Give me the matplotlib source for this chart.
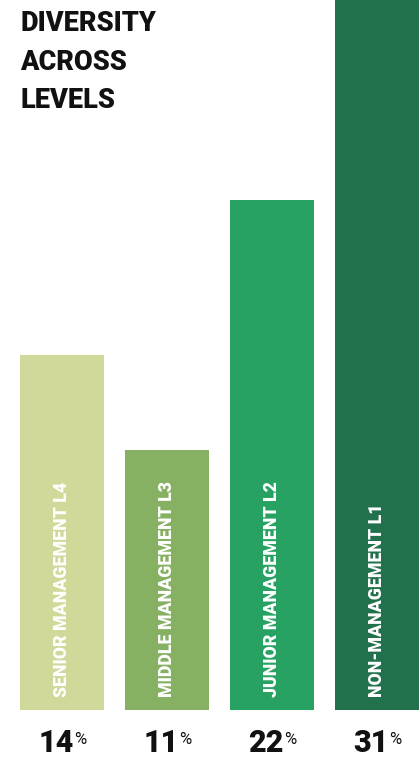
import matplotlib.pyplot as plt
from matplotlib.transforms import blended_transform_factory

# data
levels = ['SENIOR MANAGEMENT L4', 'MIDDLE MANAGEMENT L3',
          'JUNIOR MANAGEMENT L2', 'NON-MANAGEMENT L1']
percent = [14, 11, 22, 31]
# bar heights as drawn in the graphic (relative, tallest = 100)
bar_heights = [50, 36.6, 71.8, 100]
colors = ['#d0d89a', '#86b062', '#27a263', '#21714d']

plt.rcParams['font.family'] = ['Roboto', 'DejaVu Sans']

fig = plt.figure(figsize=(4.2, 7.58), dpi=100)
ax = fig.add_axes([20 / 420, 48 / 758, 399 / 420, 710 / 758])

x = range(len(levels))
ax.bar(x, bar_heights, width=0.8, color=colors)
ax.set_xlim(-0.4, 3.4)
ax.set_ylim(0, 100)
ax.axis('off')

for i, name in enumerate(levels):
    ax.text(i, 1.85, name, rotation=90, ha='center', va='bottom',
            color='white', fontsize=12.8, fontweight='heavy')

# percentage labels: number + small raised % sign, centred under each bar
trans = blended_transform_factory(ax.transData, fig.transFigure)
renderer = fig.canvas.get_renderer()
inv = ax.transData.inverted()
for i, p in enumerate(percent):
    num = ax.text(i, 6 / 758, str(p), transform=trans, ha='left',
                  va='baseline', fontsize=22, fontweight='heavy',
                  color='#111111')
    pct = ax.text(i, 14 / 758, '%', transform=trans, ha='left',
                  va='baseline', fontsize=12, color='#111111')
    wn = num.get_window_extent(renderer).width
    wp = pct.get_window_extent(renderer).width
    cx = ax.transData.transform((i, 0))[0]
    left = cx - (wn + wp) / 2
    num.set_x(inv.transform((left, 0))[0])
    pct.set_x(inv.transform((left + wn + 0.5, 0))[0])

fig.text(20 / 420, 1 - 10 / 758, 'DIVERSITY\nACROSS\nLEVELS', ha='left',
         va='top', fontsize=19.5, fontweight='heavy', color='#111111',
         linespacing=1.55)

fig.savefig('out.png', dpi=100)
